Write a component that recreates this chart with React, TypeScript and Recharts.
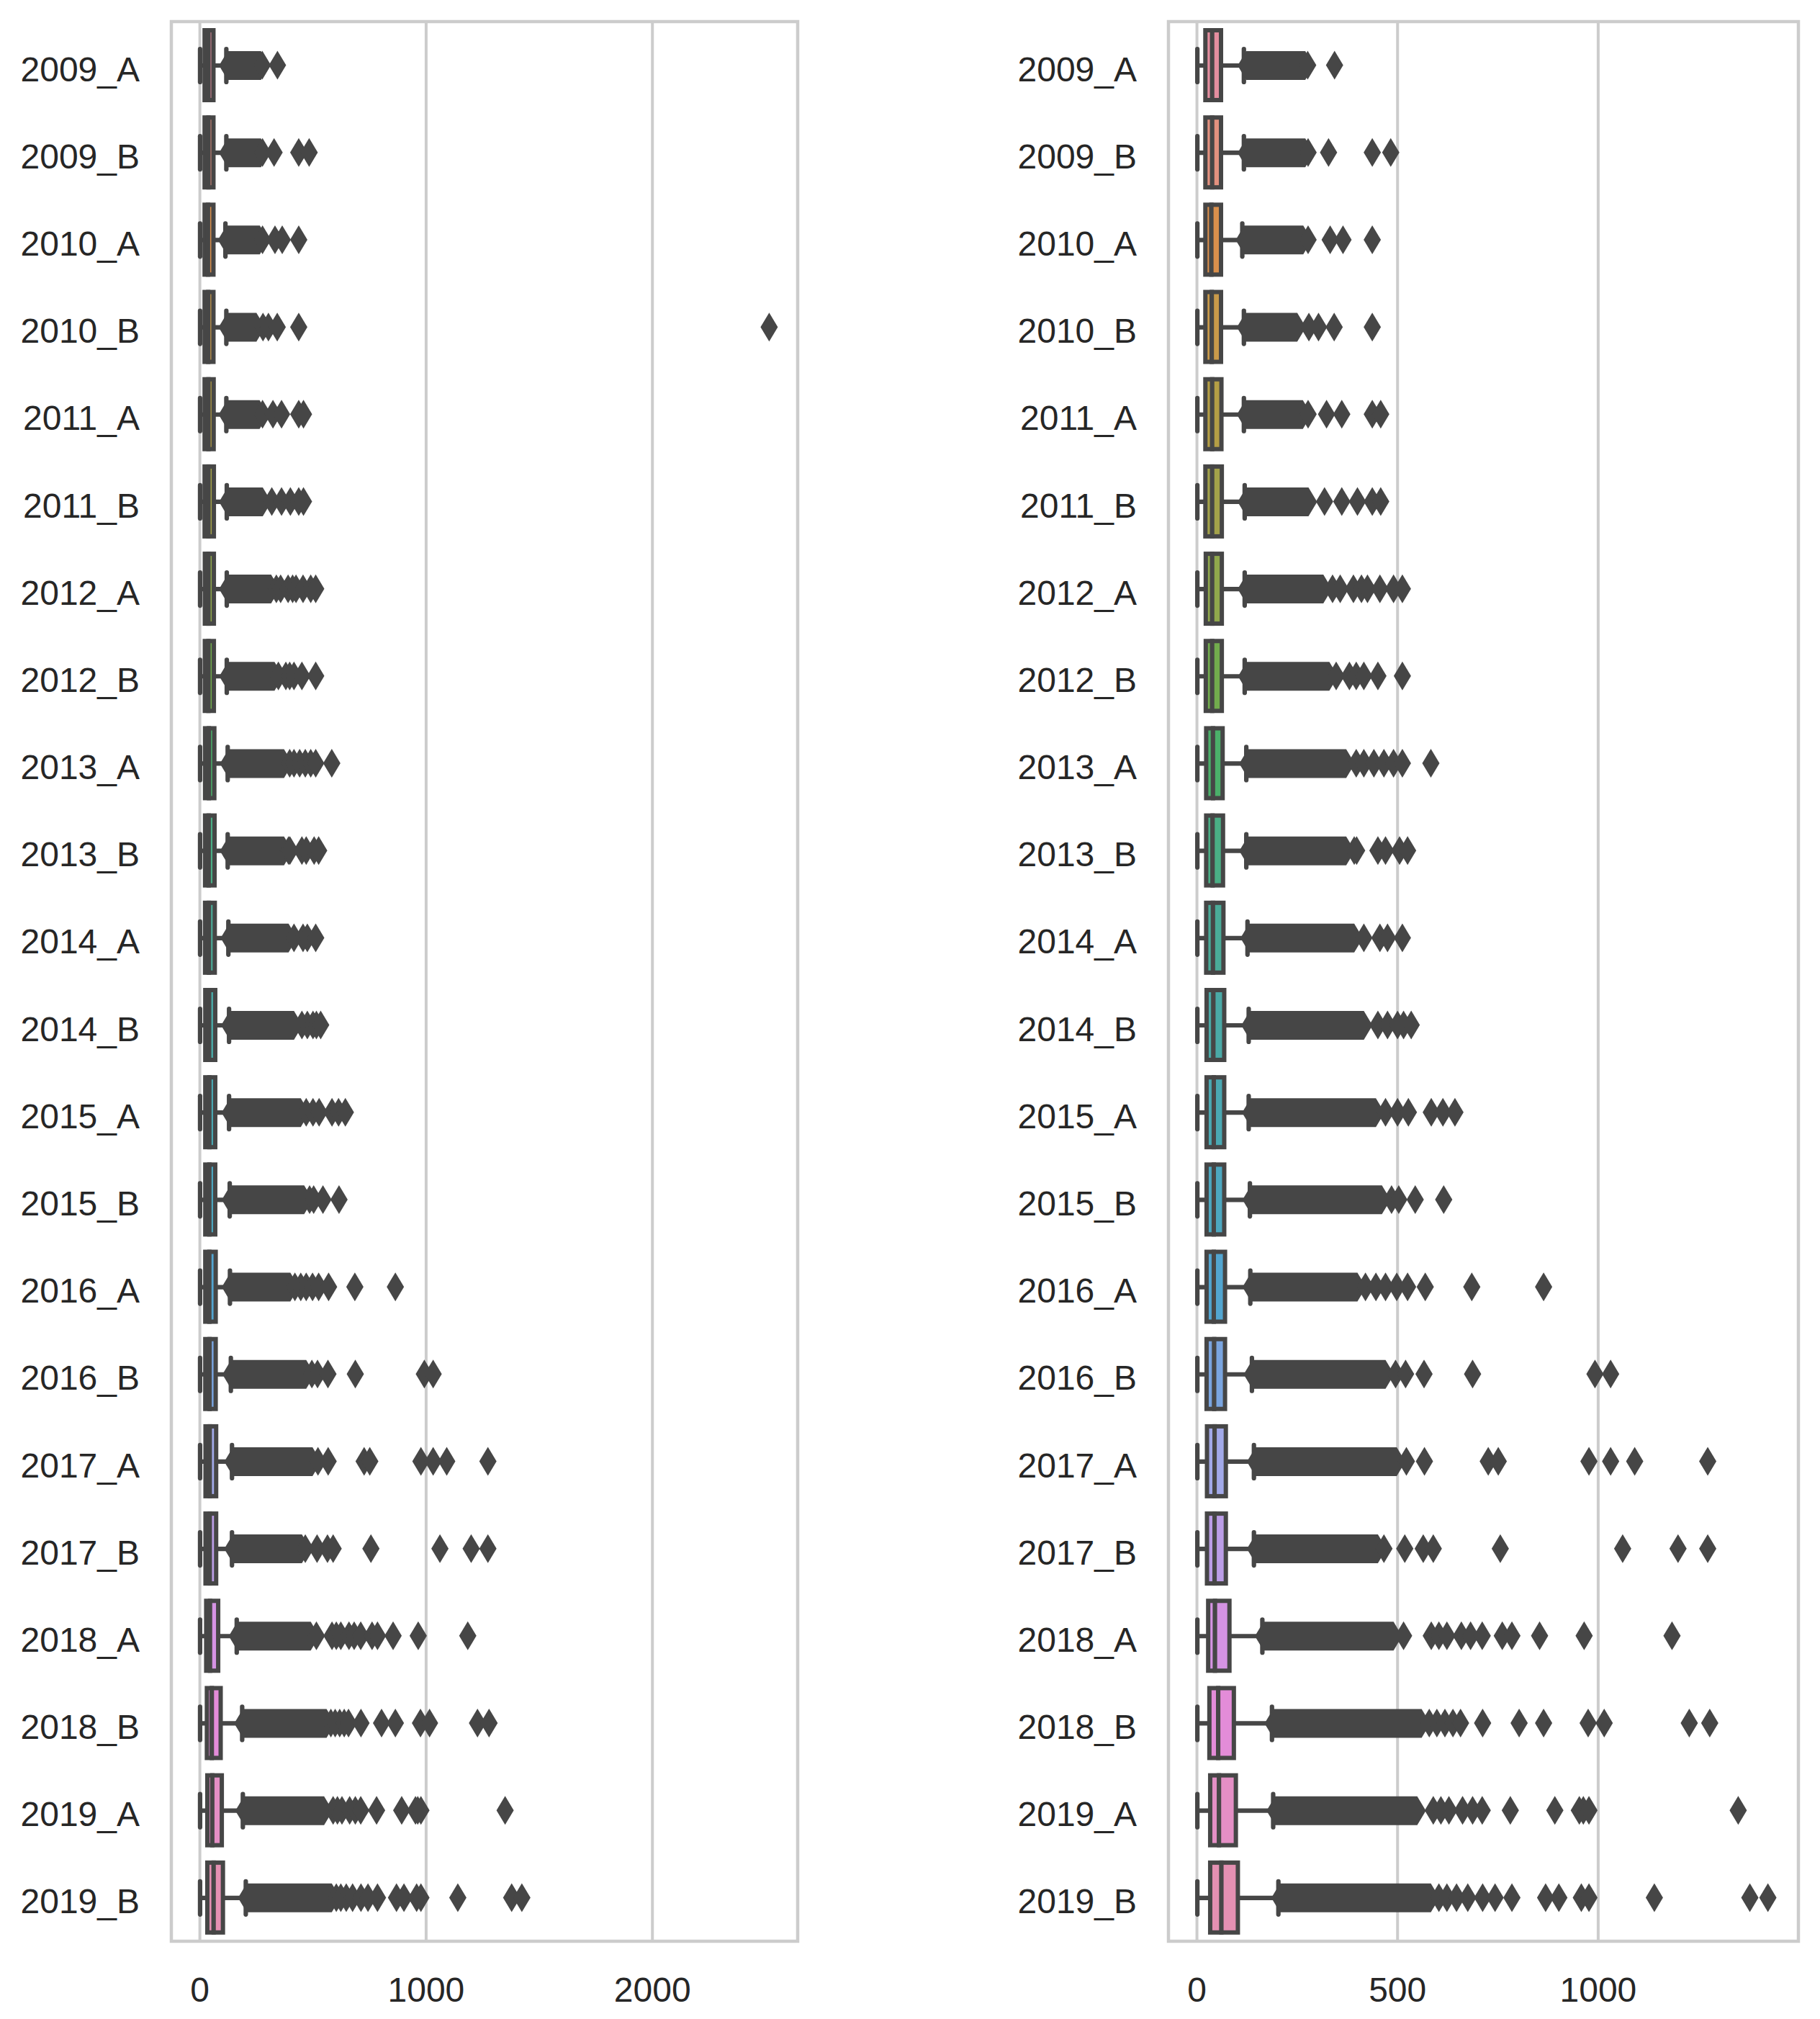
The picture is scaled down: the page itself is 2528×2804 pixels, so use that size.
import {
  Bar,
  CartesianGrid,
  ComposedChart,
  ReferenceArea,
  Scatter,
  XAxis,
  YAxis,
} from 'recharts';

const CATEGORIES = [
  '2009_A', '2009_B', '2010_A', '2010_B', '2011_A', '2011_B',
  '2012_A', '2012_B', '2013_A', '2013_B', '2014_A', '2014_B',
  '2015_A', '2015_B', '2016_A', '2016_B', '2017_A', '2017_B',
  '2018_A', '2018_B', '2019_A', '2019_B',
];

const WHISKER_LO = [1, 1, 1, 1, 1, 1, 1, 1, 1, 1, 1, 1, 1, 1, 1, 1, 1, 1, 1, 1, 1, 1];
const Q1 = [21, 21, 21, 21, 21, 21, 22, 22, 23, 23, 23, 24, 24, 24, 24, 24, 25, 25, 28, 31, 33, 33];
const MEDIAN = [38, 38, 36, 37, 38, 38, 38, 38, 40, 39, 40, 41, 42, 42, 42, 43, 44, 44, 45, 53, 55, 61];
const Q3 = [60, 60, 60, 60, 61, 62, 62, 62, 64, 65, 66, 68, 68, 68, 70, 70, 72, 72, 81, 92, 97, 102];
const WHISKER_HI = [117, 117, 113, 117, 117, 119, 119, 119, 123, 123, 126, 129, 129, 132, 133, 137, 142, 142, 163, 187, 190, 203];

// where the fliers pile up so tightly that they read as one solid band
const DENSE_START = [123, 123, 118, 121, 121, 123, 123, 124, 127, 127, 130, 132, 134, 135, 135, 138, 146, 146, 166, 190, 195, 207];
const DENSE_END = [270, 270, 265, 250, 264, 278, 315, 330, 372, 372, 392, 416, 446, 461, 400, 470, 498, 451, 490, 560, 549, 583];

const OUTLIERS = [
  [276, 343],
  [277, 328, 437, 483],
  [277, 332, 364, 437],
  [279, 303, 342, 437, 2516],
  [277, 323, 361, 437, 458],
  [318, 361, 400, 437, 458],
  [338, 357, 390, 410, 425, 456, 490, 512],
  [347, 380, 397, 416, 451, 512],
  [397, 416, 441, 466, 490, 512, 583],
  [392, 398, 451, 470, 505, 525],
  [416, 456, 475, 512],
  [451, 475, 500, 515, 534],
  [470, 500, 527, 584, 613, 643],
  [485, 503, 544, 615],
  [420, 446, 470, 498, 525, 569, 685, 864],
  [495, 520, 566, 687, 992, 1031],
  [522, 567, 726, 751, 977, 1031, 1091, 1273],
  [466, 518, 564, 589, 756, 1061, 1199, 1273],
  [515, 584, 603, 623, 659, 682, 711, 761, 785, 854, 965, 1184],
  [579, 598, 618, 638, 657, 712, 803, 864, 975, 1015, 1227, 1278],
  [589, 608, 628, 662, 687, 711, 781, 892, 953, 963, 977, 1349],
  [603, 623, 647, 675, 712, 743, 785, 869, 902, 958, 977, 1140, 1378, 1423],
];

const LEFT_TICKS = [0, 1000, 2000];
const RIGHT_TICKS = [0, 500, 1000];

const PALETTE = [
  '#e48e9f', '#e3917f', '#d98f4c', '#c99a4a', '#b49e45', '#a3a24a',
  '#90a84c', '#72ac4d', '#4bb06a', '#4aae85', '#4aab98', '#4aa9a6',
  '#4aa8b2', '#4ca7c0', '#52a5d0', '#7aa5e0', '#a2a9e8', '#bb9de6',
  '#d593e3', '#e38cd8', '#e48fc5', '#e490b2',
];

const EDGE = '#464646';
const GRID = '#cccccc';
const FONT = 'Liberation Sans, Arial, Helvetica, sans-serif';

const rows = CATEGORIES.map((name, i) => ({
  name,
  whisker: [WHISKER_LO[i], WHISKER_HI[i]],
  lower: [Q1[i], MEDIAN[i]],
  upper: [MEDIAN[i], Q3[i]],
  dense: [DENSE_START[i], DENSE_END[i]],
  color: PALETTE[i],
}));

const allFliers = OUTLIERS.flatMap((vals, i) => vals.map((v) => ({ name: CATEGORIES[i], v })));
// second panel: same data once the single extreme value is dropped
const cleanedFliers = allFliers.filter((p) => p.v < 2000);

function WhiskerShape(p: any) {
  const { x, y, width, height } = p;
  const cy = y + height / 2;
  return (
    <g stroke={EDGE} strokeWidth={6.2}>
      <line x1={x} x2={x + width} y1={cy} y2={cy} />
      <line x1={x} x2={x} y1={y + 3} y2={y + height - 3} strokeLinecap="round" />
      <line x1={x + width} x2={x + width} y1={y + 3} y2={y + height - 3} strokeLinecap="round" />
    </g>
  );
}

function BoxShape(p: any) {
  const { x, y, width, height, payload } = p;
  return (
    <rect x={x} y={y} width={width} height={height} fill={payload.color} stroke={EDGE} strokeWidth={6} />
  );
}

function DenseShape(p: any) {
  const { x, y, width, height } = p;
  const cy = y + height / 2;
  const hw = 12;
  const pts = [
    [x - hw, cy], [x, y], [x + width, y], [x + width + hw, cy], [x + width, y + height], [x, y + height],
  ].map((q) => q.join(',')).join(' ');
  return <polygon points={pts} fill={EDGE} />;
}

function Diamond(p: any) {
  const { cx, cy } = p;
  if (cx == null || cy == null) return null;
  const pts = [[cx, cy - 20], [cx + 12, cy], [cx, cy + 20], [cx - 12, cy]].map((q) => q.join(',')).join(' ');
  return <polygon points={pts} fill={EDGE} />;
}

function Panel({ domain, ticks, fliers, marginRight }: { domain: number[]; ticks: number[]; fliers: any[]; marginRight: number }) {
  const tickStyle = { fontSize: 48, fill: '#262626', fontFamily: FONT };
  return (
    <ComposedChart
      width={1130}
      height={2804}
      data={rows}
      layout="vertical"
      margin={{ top: 30, right: marginRight, bottom: 0, left: 0 }}
    >
      <CartesianGrid horizontal={false} stroke={GRID} strokeWidth={4} />
      <XAxis
        type="number"
        dataKey="v"
        domain={domain}
        ticks={ticks}
        allowDataOverflow
        height={108}
        axisLine={false}
        tickLine={false}
        tickSize={0}
        tickMargin={50}
        tick={tickStyle}
      />
      <YAxis
        yAxisId="cat"
        type="category"
        dataKey="name"
        width={238}
        interval={0}
        allowDuplicatedCategory={false}
        axisLine={false}
        tickLine={false}
        tickSize={0}
        tickMargin={44}
        tick={{ ...tickStyle, dy: 5 }}
      />
      <YAxis yAxisId="lo" type="category" dataKey="name" hide allowDuplicatedCategory={false} />
      <YAxis yAxisId="hi" type="category" dataKey="name" hide allowDuplicatedCategory={false} />
      <YAxis yAxisId="dn" type="category" dataKey="name" hide allowDuplicatedCategory={false} />
      <Bar yAxisId="cat" dataKey="whisker" barSize={52} shape={WhiskerShape} isAnimationActive={false} />
      <Bar yAxisId="dn" dataKey="dense" barSize={40} shape={DenseShape} isAnimationActive={false} />
      <Bar yAxisId="lo" dataKey="lower" barSize={97} shape={BoxShape} isAnimationActive={false} />
      <Bar yAxisId="hi" dataKey="upper" barSize={97} shape={BoxShape} isAnimationActive={false} />
      <Scatter yAxisId="cat" data={fliers} shape={Diamond} isAnimationActive={false} />
      <ReferenceArea
        yAxisId="cat"
        x1={domain[0]}
        x2={domain[1]}
        fill="none"
        stroke={GRID}
        strokeWidth={4.5}
        ifOverflow="visible"
      />
    </ComposedChart>
  );
}

export default function App() {
  return (
    <div style={{ position: 'absolute', left: 0, top: 0, width: 2528, height: 2804, background: '#fff' }}>
      <div style={{ position: 'absolute', left: 0, top: 0 }}>
        <Panel domain={[-126, 2642]} ticks={LEFT_TICKS} fliers={allFliers} marginRight={22} />
      </div>
      <div style={{ position: 'absolute', left: 1385, top: 0 }}>
        <Panel domain={[-71, 1499]} ticks={RIGHT_TICKS} fliers={cleanedFliers} marginRight={17} />
      </div>
    </div>
  );
}
